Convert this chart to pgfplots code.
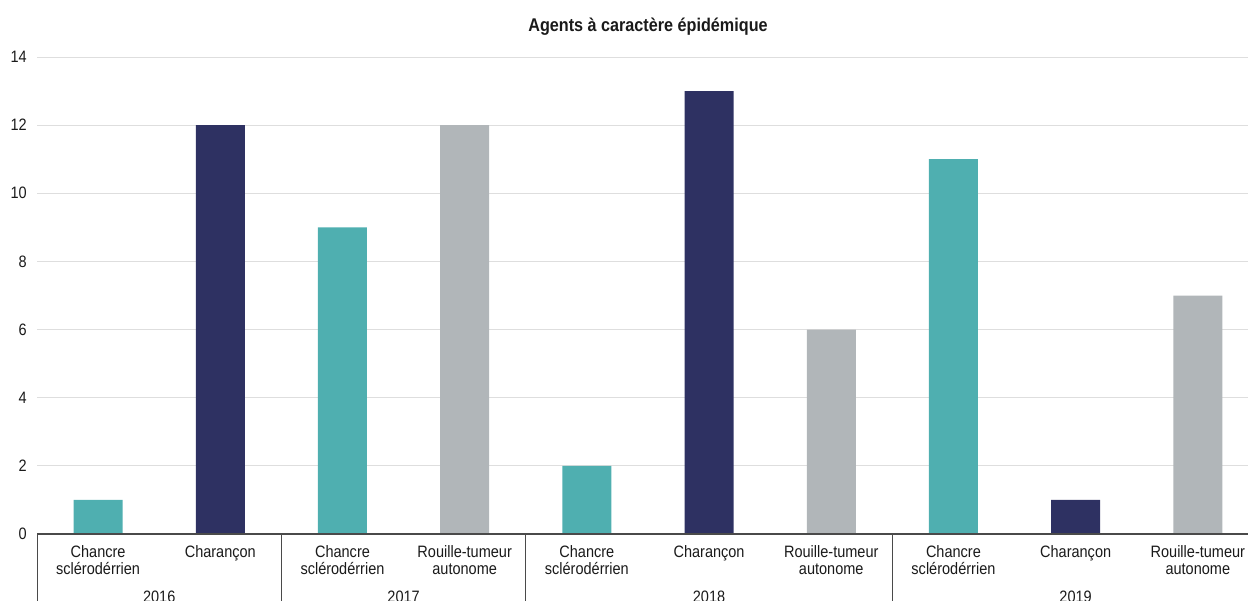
\documentclass[border=0pt]{standalone}
\usepackage{pgfplots}
\pgfplotsset{compat=1.18}
\usepackage{fontspec}
\setmainfont[FakeStretch=0.88]{Liberation Sans}

\definecolor{tealbar}{HTML}{4FAFB0}
\definecolor{navybar}{HTML}{2E3162}
\definecolor{greybar}{HTML}{B1B6B9}
\definecolor{gridgrey}{HTML}{DEDEDE}
\definecolor{axisgrey}{HTML}{4A4A4A}
\definecolor{txt}{HTML}{1A1A1A}

\tikzset{yearlabel/.style={anchor=base, text=txt, inner sep=0pt,
  font=\fontsize{16.5}{16.7}\selectfont}}

\begin{document}
\begin{tikzpicture}[x=1pt,y=1pt]
\begin{axis}[
  at={(37pt,-534pt)}, anchor=south west,
  scale only axis,
  width=1222pt, height=477pt,
  xmin=-0.5, xmax=9.5,
  ymin=0, ymax=14,
  ytick={0,2,...,14},
  xtick={0,...,9},
  xticklabels={{Chancre\\sclérodérrien},{Charançon},
               {Chancre\\sclérodérrien},{Rouille-tumeur\\autonome},
               {Chancre\\sclérodérrien},{Charançon},{Rouille-tumeur\\autonome},
               {Chancre\\sclérodérrien},{Charançon},{Rouille-tumeur\\autonome}},
  major tick length=0pt,
  axis line style={draw=none},
  ymajorgrids,
  grid style={gridgrey, line width=1pt},
  /pgf/number format/assume math mode=true,
  yticklabel style={font=\fontsize{16.5}{16.7}\selectfont, text=txt,
                    inner sep=0pt, anchor=east, xshift=-10pt},
  xticklabel style={font=\fontsize{16.5}{16.7}\selectfont, text=txt,
                    inner sep=0pt, anchor=north, align=center, yshift=-11.5pt},
  ybar, bar shift=0pt, bar width=49pt,
  clip=false,
]
  % Chancre sclérodérrien
  \addplot[fill=tealbar, draw=none] coordinates {(0,1) (2,9) (4,2) (7,11)};
  % Charançon
  \addplot[fill=navybar, draw=none] coordinates {(1,12) (5,13) (8,1)};
  % Rouille-tumeur autonome
  \addplot[fill=greybar, draw=none] coordinates {(3,12) (6,6) (9,7)};

  % baseline and year separators
  \draw[axisgrey, line width=1.3pt] (axis cs:-0.5,0) -- (axis cs:9.5,0);
  \pgfplotsinvokeforeach{-0.5,1.5,3.5,6.5,9.5}{
    \draw[axisgrey, line width=1pt] (axis cs:#1,0) -- ([yshift=-80pt]axis cs:#1,0);
  }

  % year labels
  \node[yearlabel] at ([yshift=-68pt]axis cs:0.5,0) {2016};
  \node[yearlabel] at ([yshift=-68pt]axis cs:2.5,0) {2017};
  \node[yearlabel] at ([yshift=-68pt]axis cs:5,0) {2018};
  \node[yearlabel] at ([yshift=-68pt]axis cs:8,0) {2019};
\end{axis}

\node[anchor=base, text=txt, inner sep=0pt,
      font=\bfseries\fontsize{18.4}{20}\selectfont]
  at (648,-31) {Agents à caractère épidémique};

\pgfresetboundingbox
\useasboundingbox (0,0) rectangle (1248,-600);
\end{tikzpicture}
\end{document}
